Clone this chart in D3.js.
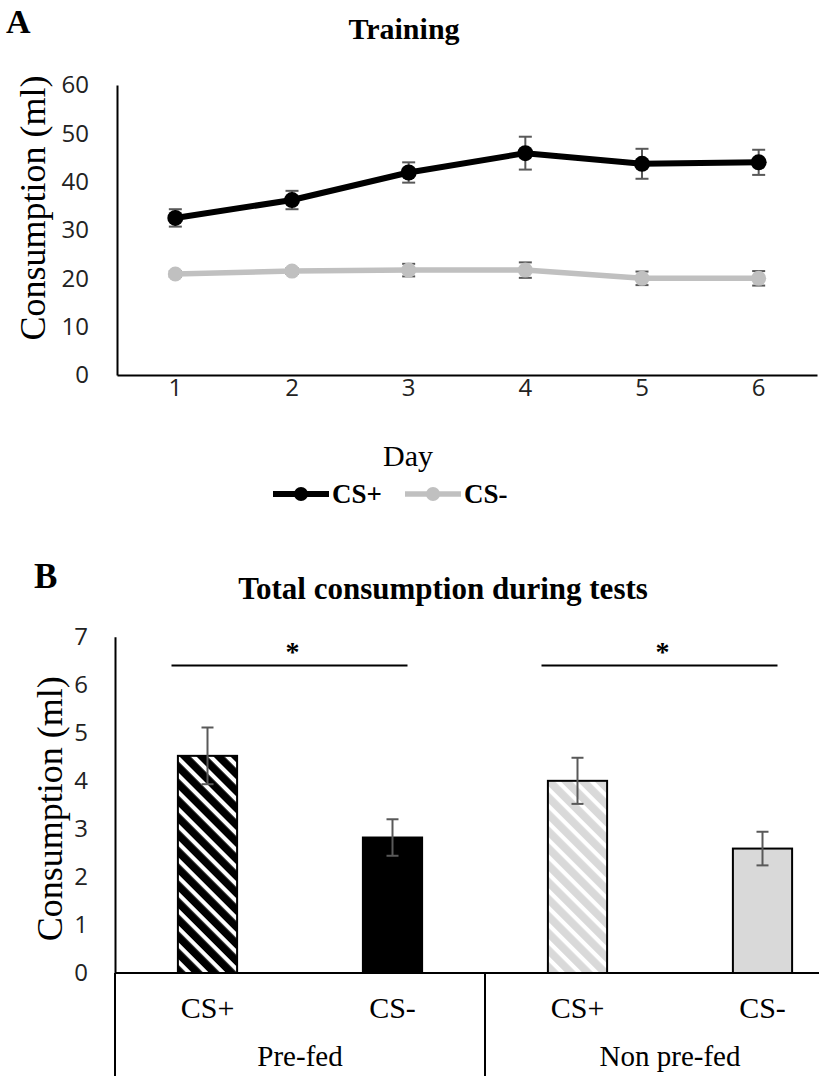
<!DOCTYPE html>
<html>
<head>
<meta charset="utf-8">
<script src="https://cdn.jsdelivr.net/npm/d3@7"></script>
<style>
  body { margin: 0; background: #fff; }
  svg { display: block; }
</style>
</head>
<body>
<svg id="fig" width="819" height="1076"></svg>
<script>
// ---- Panel A: consumption during training, by day ----
const days = [1, 2, 3, 4, 5, 6];
const csPlusMean  = [32.5, 36.2, 41.9, 45.9, 43.7, 44.0];
const csPlusErr   = [1.8, 1.9, 2.1, 3.4, 3.1, 2.6];
const csMinusMean = [20.9, 21.5, 21.7, 21.7, 20.0, 20.0];
const csMinusErr  = [0.6, 0.6, 1.3, 1.6, 1.4, 1.5];
const trainTicks  = [0, 10, 20, 30, 40, 50, 60];
const seriesNames = ["CS+", "CS-"];

// ---- Panel B: total consumption during tests ----
const groups     = ["Pre-fed", "Non pre-fed"];
const conditions = ["CS+", "CS-"];
const testMean   = [4.52, 2.82, 4.00, 2.59];
const testErr    = [0.59, 0.38, 0.48, 0.35];
const testTicks  = [0, 1, 2, 3, 4, 5, 6, 7];
const sigLevel   = 6.4;
const sigMark    = "*";

const serif = "'Liberation Serif', 'Times New Roman', serif";
const sans  = "'Open Sans', 'Noto Sans', sans-serif";
const errColor = "#595959";

const svg = d3.select("#fig");

// Hatch patterns for the CS+ bars
const defs = svg.append("defs");
function hatch(id, bg) {
  const p = defs.append("pattern")
    .attr("id", id)
    .attr("patternUnits", "userSpaceOnUse")
    .attr("width", 12).attr("height", 12)
    .attr("patternTransform", "rotate(45)");
  p.append("rect").attr("width", 12).attr("height", 12).attr("fill", bg);
  p.append("rect").attr("width", 12).attr("height", 4.2).attr("fill", "#fff");
}
hatch("hatchBlack", "#000");
hatch("hatchGray", "#d9d9d9");

// =================== Panel A ===================
const series = [
  { name: seriesNames[0], mean: csPlusMean, err: csPlusErr, color: "#000", width: 6, r: 8 },
  { name: seriesNames[1], mean: csMinusMean, err: csMinusErr, color: "#c0c0c0", width: 5.5, r: 7.5 }
];

const xA = d3.scaleBand().domain(days).range([117, 817]);
const yA = d3.scaleLinear().domain([0, 60]).range([375, 85]);

svg.append("text").text("A")
  .attr("x", 6).attr("y", 33)
  .attr("font-family", serif).attr("font-weight", "bold").attr("font-size", 34);

svg.append("text").text("Training")
  .attr("x", 404).attr("y", 39).attr("text-anchor", "middle")
  .attr("font-family", serif).attr("font-weight", "bold").attr("font-size", 30);

const yAxisA = svg.append("g")
  .attr("transform", `translate(${xA.range()[0]},0)`)
  .call(d3.axisLeft(yA).tickValues(trainTicks).tickFormat(d3.format("d")).tickSize(0).tickPadding(28));
yAxisA.select(".domain").attr("stroke", "#000").attr("stroke-width", 2);
yAxisA.selectAll("text").attr("font-family", sans).attr("font-size", 24).attr("fill", "#222");

const xAxisA = svg.append("g")
  .attr("transform", `translate(0,${yA(0)})`)
  .call(d3.axisBottom(xA).tickSize(0).tickPadding(4));
xAxisA.select(".domain").attr("stroke", "#000").attr("stroke-width", 2);
xAxisA.selectAll("text").attr("font-family", sans).attr("font-size", 24).attr("fill", "#222");

svg.append("text").text("Consumption (ml)")
  .attr("transform", `translate(45,${(yA(0) + yA(60)) / 2 - 22}) rotate(-90)`)
  .attr("text-anchor", "middle")
  .attr("font-family", serif).attr("font-size", 36);

svg.append("text").text("Day")
  .attr("x", 408).attr("y", 466).attr("text-anchor", "middle")
  .attr("font-family", serif).attr("font-size", 30);

const cx = d => xA(d) + xA.bandwidth() / 2;
const line = d3.line().x((v, i) => cx(days[i])).y(v => yA(v));

series.forEach(s => {
  const g = svg.append("g");
  // error bars
  days.forEach((d, i) => {
    const x = cx(d), y0 = yA(s.mean[i] - s.err[i]), y1 = yA(s.mean[i] + s.err[i]);
    g.append("line").attr("x1", x).attr("x2", x).attr("y1", y0).attr("y2", y1)
      .attr("stroke", errColor).attr("stroke-width", 2);
    [y0, y1].forEach(y => g.append("line")
      .attr("x1", x - 6.5).attr("x2", x + 6.5).attr("y1", y).attr("y2", y)
      .attr("stroke", errColor).attr("stroke-width", 2));
  });
  g.append("path").attr("d", line(s.mean))
    .attr("fill", "none").attr("stroke", s.color).attr("stroke-width", s.width)
    .attr("stroke-linejoin", "round");
  g.selectAll("circle").data(s.mean).join("circle")
    .attr("cx", (v, i) => cx(days[i])).attr("cy", v => yA(v)).attr("r", s.r)
    .attr("fill", s.color);
});

// legend
const legendPos = [273, 405];
series.forEach((s, i) => {
  const x0 = legendPos[i], ly = 494;
  svg.append("line").attr("x1", x0).attr("x2", x0 + 56).attr("y1", ly).attr("y2", ly)
    .attr("stroke", s.color).attr("stroke-width", s.width);
  svg.append("circle").attr("cx", x0 + 28).attr("cy", ly).attr("r", 7).attr("fill", s.color);
  svg.append("text").text(s.name)
    .attr("x", x0 + 59).attr("y", 503)
    .attr("font-family", serif).attr("font-weight", "bold").attr("font-size", 27);
});

// =================== Panel B ===================
const cats = [];
groups.forEach(g => conditions.forEach(c => cats.push(g + "|" + c)));
const fills = ["url(#hatchBlack)", "#000", "url(#hatchGray)", "#d9d9d9"];
const strokes = ["#000", "#000", "#000", "#000"];

const xB = d3.scaleBand().domain(cats).range([115, 855]);
const yB = d3.scaleLinear().domain([0, 7]).range([973, 636.7]);
const barW = xB.bandwidth() * 0.32;

svg.append("text").text("B")
  .attr("x", 34).attr("y", 588)
  .attr("font-family", serif).attr("font-weight", "bold").attr("font-size", 35);

svg.append("text").text("Total consumption during tests")
  .attr("x", 443).attr("y", 599).attr("text-anchor", "middle")
  .attr("font-family", serif).attr("font-weight", "bold").attr("font-size", 31);

const yAxisB = svg.append("g")
  .attr("transform", `translate(${xB.range()[0]},0)`)
  .call(d3.axisLeft(yB).tickValues(testTicks).tickFormat(d3.format("d")).tickSize(0).tickPadding(27));
yAxisB.select(".domain").attr("stroke", "#000").attr("stroke-width", 2);
yAxisB.selectAll("text").attr("font-family", sans).attr("font-size", 24).attr("fill", "#222");

svg.append("text").text("Consumption (ml)")
  .attr("transform", `translate(62,${(yB(0) + yB(7)) / 2 + 4}) rotate(-90)`)
  .attr("text-anchor", "middle")
  .attr("font-family", serif).attr("font-size", 36);

const bx = c => xB(c) + xB.bandwidth() / 2;

svg.append("g").selectAll("rect").data(testMean).join("rect")
  .attr("x", (v, i) => bx(cats[i]) - barW / 2)
  .attr("y", v => yB(v))
  .attr("width", barW)
  .attr("height", v => yB(0) - yB(v))
  .attr("fill", (v, i) => fills[i])
  .attr("stroke", (v, i) => strokes[i])
  .attr("stroke-width", 2);

const eg = svg.append("g");
testMean.forEach((m, i) => {
  const x = bx(cats[i]), y0 = yB(m - testErr[i]), y1 = yB(m + testErr[i]);
  eg.append("line").attr("x1", x).attr("x2", x).attr("y1", y0).attr("y2", y1)
    .attr("stroke", errColor).attr("stroke-width", 2);
  [y0, y1].forEach(y => eg.append("line")
    .attr("x1", x - 6).attr("x2", x + 6).attr("y1", y).attr("y2", y)
    .attr("stroke", errColor).attr("stroke-width", 2));
});

// significance brackets
groups.forEach(g => {
  const xs = bx(g + "|" + conditions[0]) - 36;
  const xe = bx(g + "|" + conditions[1]) + 15;
  svg.append("line").attr("x1", xs).attr("x2", xe)
    .attr("y1", yB(sigLevel)).attr("y2", yB(sigLevel))
    .attr("stroke", "#000").attr("stroke-width", 2);
  svg.append("text").text(sigMark)
    .attr("x", (xs + xe) / 2 + 3).attr("y", yB(sigLevel) - 5).attr("text-anchor", "middle")
    .attr("font-family", serif).attr("font-weight", "bold").attr("font-size", 28);
});

// two-level category axis
const base = yB(0);
svg.append("line").attr("x1", xB.range()[0]).attr("x2", xB.range()[1])
  .attr("y1", base).attr("y2", base).attr("stroke", "#000").attr("stroke-width", 2);
[0, 2, 4].forEach(k => {
  const x = k < cats.length ? xB(cats[k]) : xB.range()[1];
  svg.append("line").attr("x1", x).attr("x2", x).attr("y1", base).attr("y2", 1076)
    .attr("stroke", "#000").attr("stroke-width", 2);
});
cats.forEach(c => {
  svg.append("text").text(c.split("|")[1])
    .attr("x", bx(c)).attr("y", 1018).attr("text-anchor", "middle")
    .attr("font-family", serif).attr("font-size", 30);
});
groups.forEach((g, gi) => {
  const x = (xB(cats[gi * 2]) + xB(cats[gi * 2 + 1]) + xB.bandwidth()) / 2;
  svg.append("text").text(g)
    .attr("x", x).attr("y", 1066).attr("text-anchor", "middle")
    .attr("font-family", serif).attr("font-size", 29);
});
</script>
</body>
</html>
